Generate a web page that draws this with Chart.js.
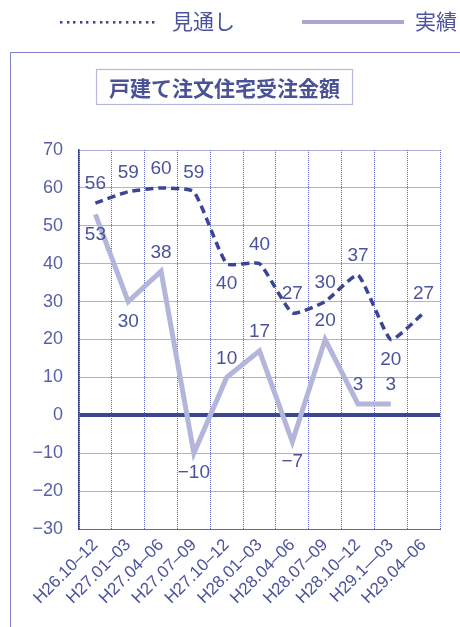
<!DOCTYPE html>
<html lang="ja">
<head>
<meta charset="utf-8">
<script src="https://cdn.jsdelivr.net/npm/chart.js@4"></script>
<style>
  html, body { margin: 0; padding: 0; background: #fff; }
  #wrap { position: relative; width: 460px; height: 627px; }
</style>
</head>
<body>
<div id="wrap"><canvas id="orders"></canvas></div>
<script>
// 四半期ラベル
const categories = ['H26.10–12', 'H27.01–03', 'H27.04–06', 'H27.07–09', 'H27.10–12',
  'H28.01–03', 'H28.04–06', 'H28.07–09', 'H28.10–12', 'H29.1—03', 'H29.04–06'];
// 見通し
const forecastValues = [56, 59, 60, 59, 40, 40, 27, 30, 37, 20, 27];
// 実績
const actualValues = [53, 30, 38, -10, 10, 17, -7, 20, 3, 3, null];
// 数値ラベルを点の上に置くか下に置くか
const forecastLabelSide = ['up', 'up', 'up', 'up', 'down', 'up', 'up', 'up', 'up', 'down', 'up'];
const actualLabelSide = ['down', 'down', 'up', 'down', 'up', 'up', 'down', 'up', 'up', 'up'];

const yMin = -30;
const yMax = 70;
const yStep = 10;

const TEXT = '#4a539c';
const NAVY = '#3a4596';
const LAVENDER = '#b3b6da';
const GRID = '#5d63b8';
const NUM_FONT = '"Liberation Sans", Arial, sans-serif';
const JP_FONT = '"Noto Sans CJK JP", sans-serif';

const fmt = v => (v < 0 ? '−' + Math.abs(v) : String(v));

// 外枠・凡例・タイトル
const decorations = {
  id: 'decorations',
  beforeDraw(chart) {
    const ctx = chart.ctx;
    ctx.save();
    ctx.fillStyle = '#fff';
    ctx.fillRect(0, 0, chart.width, chart.height);
    ctx.strokeStyle = '#7b80c8';
    ctx.lineWidth = 1;
    ctx.beginPath();
    ctx.moveTo(10.5, chart.height);
    ctx.lineTo(10.5, 52.5);
    ctx.lineTo(chart.width, 52.5);
    ctx.stroke();
    ctx.restore();
  },
  afterDraw(chart) {
    const ctx = chart.ctx;
    ctx.save();
    // 凡例: 見通し（点線）
    ctx.fillStyle = NAVY;
    for (let x = 60; x <= 154; x += 6.6) {
      ctx.fillRect(Math.round(x), 21, 2.4, 2.6);
    }
    ctx.font = '21px ' + JP_FONT;
    ctx.textBaseline = 'middle';
    ctx.textAlign = 'left';
    ctx.fillStyle = TEXT;
    ctx.fillText('見通し', 172, 21);
    // 凡例: 実績（実線）
    ctx.strokeStyle = '#a9a7d2';
    ctx.lineWidth = 4;
    ctx.beginPath();
    ctx.moveTo(302, 22);
    ctx.lineTo(404, 22);
    ctx.stroke();
    ctx.fillText('実績', 415, 21);
    // タイトル枠
    ctx.strokeStyle = '#b6b9de';
    ctx.lineWidth = 1.2;
    ctx.strokeRect(96.5, 69.5, 256, 35);
    ctx.font = 'bold 21px ' + JP_FONT;
    ctx.textAlign = 'center';
    ctx.fillStyle = '#4a5296';
    ctx.fillText('戸建て注文住宅受注金額', 224.5, 88);
    ctx.restore();
  }
};

// 各点の数値ラベル
const valueLabels = {
  id: 'valueLabels',
  afterDatasetsDraw(chart) {
    const ctx = chart.ctx;
    ctx.save();
    ctx.font = '19px ' + NUM_FONT;
    ctx.fillStyle = TEXT;
    ctx.textAlign = 'center';
    ctx.textBaseline = 'middle';
    chart.data.datasets.forEach((ds, di) => {
      const sides = ds.labelSide;
      chart.getDatasetMeta(di).data.forEach((pt, i) => {
        const v = ds.data[i];
        if (v === null || v === undefined) return;
        const dy = sides[i] === 'up' ? -19 : 20;
        ctx.fillText(fmt(v), pt.x, pt.y + dy);
      });
    });
    ctx.restore();
  }
};

new Chart(document.getElementById('orders'), {
  type: 'line',
  data: {
    labels: categories,
    datasets: [
      {
        label: '実績',
        data: actualValues,
        labelSide: actualLabelSide,
        borderColor: LAVENDER,
        borderWidth: 5,
        pointRadius: 0,
        tension: 0,
        fill: false,
      },
      {
        label: '見通し',
        data: forecastValues,
        labelSide: forecastLabelSide,
        borderColor: NAVY,
        borderWidth: 3.5,
        borderDash: [8, 5],
        pointRadius: 0,
        tension: 0.15,
        fill: false,
      },
    ],
  },
  options: {
    responsive: true,
    maintainAspectRatio: false,
    animation: false,
    layout: { padding: { top: 150, right: 20, left: 0, bottom: 0 } },
    plugins: {
      legend: { display: false },
      title: { display: false },
      tooltip: { enabled: false },
    },
    scales: {
      x: {
        offset: true,
        afterFit: scale => { scale.height = 98; },
        grid: {
          offset: true,
          drawTicks: false,
          color: GRID,
          lineWidth: 1,
        },
        border: { display: true, color: GRID, width: 1, dash: [1, 1] },
        ticks: {
          color: TEXT,
          font: { family: NUM_FONT, size: 17 },
          minRotation: 45,
          maxRotation: 45,
          padding: 6,
          autoSkip: false,
        },
      },
      y: {
        min: yMin,
        max: yMax,
        afterFit: scale => { scale.width = 79; },
        grid: {
          drawTicks: false,
          color: ctx => (ctx.tick && ctx.tick.value === 0 ? NAVY : GRID),
          lineWidth: ctx => (ctx.tick && ctx.tick.value === 0 ? 4 : 1),
        },
        border: {
          display: true,
          color: NAVY,
          width: 1.5,
          dash: ctx => (ctx.tick && (ctx.tick.value === 0 || ctx.tick.value === yMin) ? [] : [1, 1]),
        },
        ticks: {
          stepSize: yStep,
          color: '#5860a8',
          font: { family: NUM_FONT, size: 18 },
          padding: 16,
          callback: v => fmt(v),
        },
      },
    },
  },
  plugins: [decorations, valueLabels],
});
</script>
</body>
</html>
